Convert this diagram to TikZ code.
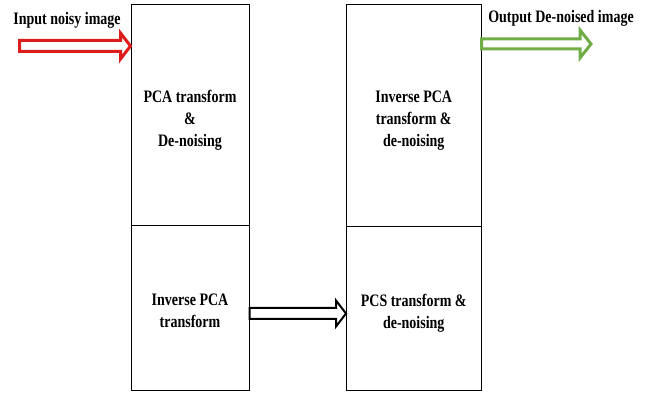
\documentclass[tikz,border=0pt]{standalone}
\usepackage{fontspec}
\setmainfont{Liberation Serif}
\usetikzlibrary{calc}
\definecolor{arrred}{RGB}{222,28,28}
\definecolor{arrgreen}{RGB}{112,173,71}
\newcommand\tallt[1]{\scalebox{1}[1.25]{\fontsize{14}{17.6}\selectfont\bfseries\begin{tabular}{@{}c@{}}#1\end{tabular}}}
% style, from, to, shaft half, head half, head length
\newcommand\hollowarrow[6]{\draw[#1] let \p1=(#2), \p2=(#3) in
  (\x1,\y1+#4) -- (\x2-#6,\y1+#4) -- (\x2-#6,\y1+#5) -- (\x2,\y1)
  -- (\x2-#6,\y1-#5) -- (\x2-#6,\y1-#4) -- (\x1,\y1-#4) -- cycle;}
\begin{document}
\begin{tikzpicture}[x=1pt,y=-1pt,
  box/.style={draw=black,line width=1pt,rectangle,inner sep=0pt},
  boxtext/.style={inner sep=0pt,yshift=-4.5pt},
  lbl/.style={inner sep=0pt,anchor=base}]
\useasboundingbox (0,0) rectangle (649,393);
\node[box,minimum width=118pt,minimum height=221pt,
  label={[boxtext]center:\tallt{PCA transform\\\&\\De-noising}}] (ltop) at (190,115.5) {};
\node[box,minimum width=118pt,minimum height=164pt,
  label={[boxtext]center:\tallt{Inverse PCA\\transform}}] (lbot) at (190,308) {};
\node[box,minimum width=134.5pt,minimum height=222pt,
  label={[boxtext]center:\tallt{Inverse PCA\\transform \&\\de-noising}}] (rtop) at (413.75,116) {};
\node[box,minimum width=134.5pt,minimum height=163pt,
  label={[boxtext]center:\tallt{PCS transform \&\\de-noising}}] (rbot) at (413.75,308.5) {};
\node[lbl] (inlbl) at (67,25) {\tallt{Input noisy image}};
\node[lbl] (outlbl) at (561,23) {\tallt{Output De-noised image}};
\coordinate (in) at (19.5,46);
\coordinate (out) at (591,44);
\hollowarrow{arrred,line width=3pt}{in}{ltop.west |- in}{5.5pt}{13pt}{10pt}
\hollowarrow{arrgreen,line width=3pt}{rtop.east |- out}{out}{5pt}{14pt}{11pt}
\coordinate (bstart) at ($(lbot.east)+(0,5.5)$);
\hollowarrow{black,line width=2pt}{bstart}{rbot.west |- bstart}{5.5pt}{13pt}{10pt}
\end{tikzpicture}
\end{document}
